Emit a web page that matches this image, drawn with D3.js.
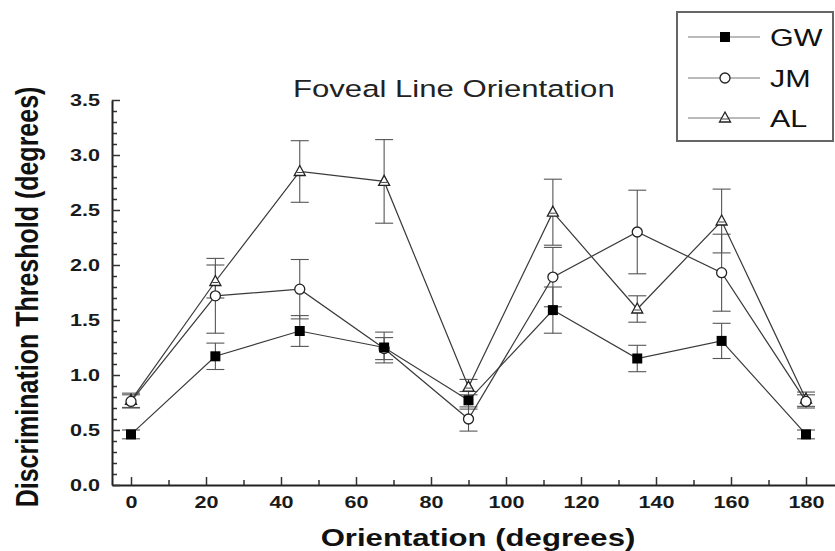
<!DOCTYPE html>
<html>
<head>
<meta charset="utf-8">
<script src="https://cdn.jsdelivr.net/npm/d3@7"></script>
<style>
  body { margin: 0; background: #fff; }
  svg { display: block; font-family: "Liberation Sans", Arial, sans-serif; }
</style>
</head>
<body>
<svg id="chart" width="835" height="551"></svg>
<script>
// data
var orientations = [0, 22.5, 45, 67.5, 90, 112.5, 135, 157.5, 180];
var gwMean = [0.46, 1.17, 1.40, 1.25, 0.77, 1.59, 1.15, 1.31, 0.46];
var gwErr  = [0.04, 0.12, 0.14, 0.14, 0.08, 0.21, 0.12, 0.16, 0.04];
var jmMean = [0.76, 1.72, 1.78, 1.24, 0.60, 1.89, 2.30, 1.93, 0.76];
var jmErr  = [0.06, 0.34, 0.27, 0.10, 0.11, 0.27, 0.38, 0.35, 0.06];
var alMean = [0.77, 1.85, 2.85, 2.76, 0.89, 2.48, 1.60, 2.40, 0.78];
var alErr  = [0.065, 0.15, 0.28, 0.38, 0.07, 0.30, 0.12, 0.29, 0.065];
var seriesNames = ["GW", "JM", "AL"];
var xTicks = [0, 20, 40, 60, 80, 100, 120, 140, 160, 180];
var yTicks = [0, 0.5, 1.0, 1.5, 2.0, 2.5, 3.0, 3.5];

var series = [
  {name: "AL", mean: alMean, err: alErr, shape: "tri"},
  {name: "JM", mean: jmMean, err: jmErr, shape: "circle"},
  {name: "GW", mean: gwMean, err: gwErr, shape: "square"}
];

var stretch = 1.27; // the scan is wider than tall

var svg = d3.select("#chart");

var x = d3.scaleLinear().domain([-5, 190]).range([112.25, 843.5]);
var y = d3.scaleLinear().domain([0, 3.5]).range([485, 100]);

// minor ticks
svg.append("g")
    .attr("transform", "translate(0,485)")
    .call(d3.axisBottom(x).tickValues(d3.range(10, 180, 20)).tickSize(-5).tickSizeOuter(0).tickFormat(""))
    .call(g => g.select(".domain").remove());
svg.append("g")
    .attr("transform", "translate(112,0)")
    .call(d3.axisLeft(y).tickValues(d3.range(1, 35).filter(d => d % 5 != 0).map(d => d / 10)).tickSize(-5).tickSizeOuter(0).tickFormat(""))
    .call(g => g.select(".domain").remove());

// main axes
var xAxis = svg.append("g")
    .attr("class", "axis")
    .attr("transform", "translate(0,485)")
    .call(d3.axisBottom(x).tickValues(xTicks).tickSize(-8).tickSizeOuter(0).tickPadding(11).tickFormat(d3.format("d")));
var yAxis = svg.append("g")
    .attr("class", "axis")
    .attr("transform", "translate(112,0)")
    .call(d3.axisLeft(y).tickValues(yTicks).tickSize(-8).tickSizeOuter(0).tickPadding(12).tickFormat(d3.format(".1f")));

svg.selectAll(".axis .domain").attr("stroke", "#222").attr("stroke-width", 2);
svg.selectAll(".tick line").attr("stroke", "#333").attr("stroke-width", 1.5);
svg.selectAll(".axis .tick text")
    .attr("class", "wide")
    .attr("fill", "#1a1a1a")
    .style("font-size", "17px")
    .style("font-weight", "bold")
    .style("font-family", "'Liberation Sans', Arial, sans-serif");

// error bars
var capW = 9;
series.forEach(function(s) {
  var g = svg.append("g").attr("stroke", "#555").attr("stroke-width", 1.1).attr("fill", "none");
  orientations.forEach(function(o, i) {
    var lo = y(s.mean[i] - s.err[i]), hi = y(s.mean[i] + s.err[i]), cx = x(o);
    g.append("line").attr("x1", cx).attr("x2", cx).attr("y1", lo).attr("y2", hi);
    g.append("line").attr("x1", cx - capW).attr("x2", cx + capW).attr("y1", lo).attr("y2", lo);
    g.append("line").attr("x1", cx - capW).attr("x2", cx + capW).attr("y1", hi).attr("y2", hi);
  });
});

// lines
var line = d3.line().x((d, i) => x(orientations[i])).y(d => y(d));
series.forEach(function(s) {
  svg.append("path")
      .attr("d", line(s.mean))
      .attr("fill", "none")
      .attr("stroke", "#3a3a3a")
      .attr("stroke-width", 1.2);
});

function drawMarker(g, shape, cx, cy) {
  if (shape == "square") {
    g.append("rect").attr("x", cx - 5).attr("y", cy - 5).attr("width", 10).attr("height", 10)
        .attr("fill", "#000");
  } else if (shape == "circle") {
    g.append("circle").attr("cx", cx).attr("cy", cy).attr("r", 5)
        .attr("fill", "#fff").attr("stroke", "#222").attr("stroke-width", 1.3);
  } else {
    g.append("path").attr("d", "M" + cx + "," + (cy - 6) + "L" + (cx + 5.5) + "," + (cy + 4) + "L" + (cx - 5.5) + "," + (cy + 4) + "Z")
        .attr("fill", "#fff").attr("stroke", "#222").attr("stroke-width", 1.3);
    g.append("line").attr("x1", cx - 3).attr("x2", cx + 3).attr("y1", cy + 1).attr("y2", cy + 1)
        .attr("stroke", "#444").attr("stroke-width", 1);
  }
}

// markers
series.forEach(function(s) {
  var g = svg.append("g");
  orientations.forEach(function(o, i) { drawMarker(g, s.shape, x(o), y(s.mean[i])); });
});

// title
svg.append("text")
    .attr("class", "wide")
    .attr("x", 293).attr("y", 97)
    .attr("fill", "#222")
    .style("font-size", "24.5px")
    .text("Foveal Line Orientation");

// axis titles
svg.append("text")
    .attr("class", "wide")
    .attr("x", 478).attr("y", 546)
    .attr("text-anchor", "middle")
    .attr("fill", "#111")
    .style("font-size", "24.5px")
    .style("font-weight", "bold")
    .text("Orientation (degrees)");
svg.append("text")
    .attr("transform", "translate(38,297) scale(" + stretch + ",1) rotate(-90)")
    .attr("text-anchor", "middle")
    .attr("fill", "#111")
    .style("font-size", "25px")
    .style("font-weight", "bold")
    .text("Discrimination Threshold (degrees)");

// legend
var legend = svg.append("g");
legend.append("rect")
    .attr("x", 677).attr("y", 12).attr("width", 156).attr("height", 129)
    .attr("fill", "#fff").attr("stroke", "#666").attr("stroke-width", 2);
var legendRows = {GW: 37, JM: 78, AL: 118};
var shapeOf = {GW: "square", JM: "circle", AL: "tri"};
seriesNames.forEach(function(name) {
  var ly = legendRows[name];
  legend.append("line").attr("x1", 688).attr("x2", 760).attr("y1", ly).attr("y2", ly)
      .attr("stroke", "#777").attr("stroke-width", 1.2);
  drawMarker(legend, shapeOf[name], 725, ly);
  legend.append("text")
      .attr("class", "wide")
      .attr("x", 770).attr("y", ly).attr("dy", "0.36em")
      .attr("fill", "#111")
      .style("font-size", "24px")
      .text(name);
});

// widen horizontal text to match the scan's aspect
svg.selectAll("text.wide").each(function() {
  var w = this.getComputedTextLength();
  d3.select(this).attr("textLength", w * stretch).attr("lengthAdjust", "spacingAndGlyphs");
});
</script>
</body>
</html>
